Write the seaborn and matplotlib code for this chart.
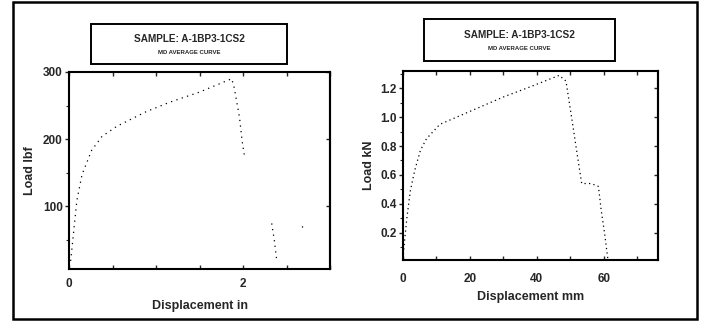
import matplotlib
matplotlib.use("Agg")
import matplotlib.pyplot as plt
from matplotlib.patches import Rectangle
from matplotlib.ticker import FixedLocator, MultipleLocator, FormatStrFormatter
import numpy as np
import pandas as pd
import seaborn as sns

# Load-displacement record, imperial units (in, lbf); segments separate gaps in the trace
disp_in = [0.00, 0.02, 0.09, 0.15, 0.26, 0.38, 0.55, 0.89, 1.16, 1.50, 1.87, 1.90, 1.96, 1.99, 2.02,
           2.33, 2.36, 2.37, 2.39,
           2.68, 2.71]
load_lbf = [10, 19, 108, 147, 183, 204, 219, 241, 255, 270, 290, 276, 232, 197, 172,
            74, 49, 38, 17,
            68, 73]
seg_in = [0] * 15 + [1] * 4 + [2] * 2

# Same record, metric units (mm, kN)
disp_mm = [0.0, 0.5, 1.2, 2.2, 3.5, 5.2, 7.0, 11.0, 21.0, 30.0, 38.0, 46.7,
           48.7, 50.7, 52.2, 53.4, 56.2, 58.4, 59.2, 60.2, 61.2]
load_kn = [0.02, 0.15, 0.31, 0.49, 0.63, 0.77, 0.85, 0.95, 1.05, 1.14, 1.21, 1.29,
           1.25, 0.95, 0.72, 0.54, 0.54, 0.52, 0.36, 0.20, 0.02]

title_main = "SAMPLE: A-1BP3-1CS2"
title_sub = "MD AVERAGE CURVE"

sns.set_style("ticks")
plt.rcParams["font.family"] = ["Liberation Sans", "DejaVu Sans"]
plt.rcParams["font.weight"] = "bold"

W, H = 705, 322
fig = plt.figure(figsize=(W / 100, H / 100), dpi=100)
fig.patch.set_facecolor("white")


def frac_box(x0, y0, x1, y1):
    """Pixel box (top-left origin) to figure fraction [left, bottom, width, height]."""
    return [x0 / W, (H - y1) / H, (x1 - x0) / W, (y1 - y0) / H]


def style_axes(ax, xpad):
    for s in ax.spines.values():
        s.set_linewidth(1.5)
        s.set_color("black")
    ax.set_facecolor("white")
    ax.tick_params(axis="y", which="major", direction="out", length=3, width=1.0,
                   labelsize=8.5, pad=1.5)
    ax.tick_params(axis="y", which="minor", direction="out", length=2, width=0.8)
    ax.tick_params(axis="x", which="both", direction="in", top=True, length=3, width=1.0,
                   labelsize=8.5, pad=xpad)
    for lab in ax.get_xticklabels() + ax.get_yticklabels():
        lab.set_fontweight("bold")
    sec = ax.secondary_yaxis("right")
    sec.tick_params(which="both", direction="in", length=3, width=1.0, labelright=False)
    sec.spines["right"].set_linewidth(1.5)
    return sec


# ---- left panel: inches / lbf ----
axL = fig.add_axes(frac_box(69, 72, 330, 269))
df_in = pd.DataFrame({"disp": disp_in, "load": load_lbf, "seg": seg_in})
sns.lineplot(data=df_in, x="disp", y="load", units="seg", estimator=None, sort=False,
             color="black", linewidth=0.9, linestyle=(0, (1, 3.5)), ax=axL)
axL.set_xlim(0, 3.0)
axL.set_ylim(6, 300)
axL.xaxis.set_major_locator(FixedLocator([0, 2]))
axL.xaxis.set_minor_locator(MultipleLocator(0.5))
axL.yaxis.set_major_locator(FixedLocator([100, 200, 300]))
axL.yaxis.set_minor_locator(FixedLocator([50, 150, 250]))
secL = style_axes(axL, xpad=6.5)
secL.set_yticks([100, 200, 300])
axL.set_xlabel("Displacement in", fontsize=9, fontweight="bold", labelpad=7)
axL.set_ylabel("Load lbf", fontsize=9, fontweight="bold", labelpad=5)

# ---- right panel: mm / kN ----
axR = fig.add_axes(frac_box(403, 71, 658, 260))
df_mm = pd.DataFrame({"disp": disp_mm, "load": load_kn})
sns.lineplot(data=df_mm, x="disp", y="load", estimator=None, sort=False,
             color="black", linewidth=0.9, linestyle=(0, (1, 2.6)), ax=axR)
axR.set_xlim(0, 76.2)
axR.set_ylim(0.01, 1.32)
axR.xaxis.set_major_locator(FixedLocator([0, 20, 40, 60]))
axR.xaxis.set_minor_locator(MultipleLocator(10))
axR.yaxis.set_major_locator(FixedLocator([0.2, 0.4, 0.6, 0.8, 1.0, 1.2]))
axR.yaxis.set_minor_locator(FixedLocator([0.1, 0.3, 0.5, 0.7, 0.9, 1.1, 1.3]))
axR.yaxis.set_major_formatter(FormatStrFormatter("%.1f"))
secR = style_axes(axR, xpad=9)
secR.set_yticks([0.2, 0.4, 0.6, 0.8, 1.0, 1.2])
axR.set_xlabel("Displacement mm", fontsize=9, fontweight="bold", labelpad=5)
axR.set_ylabel("Load kN", fontsize=9, fontweight="bold", labelpad=4)

# ---- title boxes ----
for (x0, y0, x1, y1) in [(91, 24, 287, 64), (424, 19, 615, 61)]:
    l, b, w, h = frac_box(x0, y0, x1, y1)
    fig.patches.append(Rectangle((l, b), w, h, transform=fig.transFigure, fill=False,
                                 edgecolor="black", linewidth=1.4))
    cx = (x0 + x1) / 2 / W
    fig.text(cx, (H - (y0 + 0.37 * (y1 - y0))) / H, title_main, ha="center", va="center",
             fontsize=7.2, fontweight="bold")
    fig.text(cx, (H - (y0 + 0.7 * (y1 - y0))) / H, title_sub, ha="center", va="center",
             fontsize=4.3, fontweight="bold")

# ---- outer page frame ----
l, b, w, h = frac_box(13, 2, 697, 319)
fig.patches.append(Rectangle((l, b), w, h, transform=fig.transFigure, fill=False,
                             edgecolor="black", linewidth=1.8))

fig.savefig("out.png", dpi=100, facecolor="white")
